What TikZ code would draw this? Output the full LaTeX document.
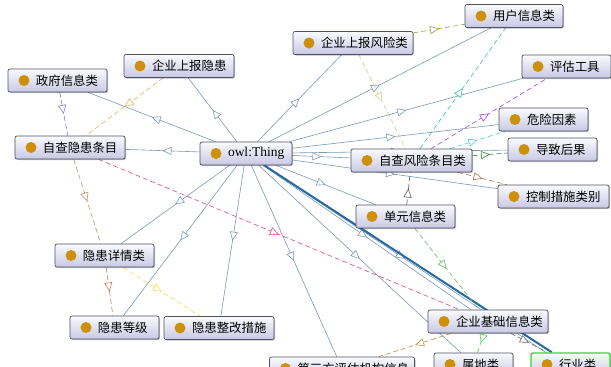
\documentclass[tikz,border=0pt]{standalone}
\usepackage{fontspec}
\setmainfont{Liberation Serif}
\newfontfamily\cjk{Noto Sans CJK SC}
\usetikzlibrary{arrows.meta,decorations.markings,shadows,backgrounds}
\definecolor{dotc}{RGB}{204,144,10}
\definecolor{boxc}{RGB}{80,80,96}
\definecolor{boxtop}{RGB}{250,250,254}
\definecolor{boxbot}{RGB}{200,200,228}
\definecolor{edgec}{RGB}{122,154,180}
\definecolor{thickc}{RGB}{40,105,165}
\definecolor{selc}{RGB}{50,215,50}
\newcommand{\klbl}[2]{\makebox[#1pt][l]{\hspace*{28pt}#2}}
\tikzset{
  cls/.style={draw=boxc, line width=0.7pt, rounded corners=2pt,
    top color=boxtop, bottom color=boxbot, inner xsep=0pt, inner ysep=0pt,
    minimum height=23pt, font=\cjk\fontsize{12.4}{14}\selectfont,
    path picture={\fill[dotc] ([xshift=16pt]path picture bounding box.west) circle (5.5pt);},
    drop shadow={shadow xshift=1pt, shadow yshift=-1pt, opacity=0.25, fill=black}},
  selcls/.style={cls, draw=selc, line width=1.4pt},
  midarrow/.style={postaction={decorate}, decoration={markings,
    mark=at position 0.5 with {\arrow{Triangle[length=9pt,width=8pt,fill=white,line width=0.6pt]}}}},
  sub/.style={edgec, line width=0.6pt, midarrow},
  rel/.style={line width=0.6pt, dash pattern=on 5pt off 3pt, midarrow},
}
\begin{document}
\begin{tikzpicture}[x=1pt,y=-1pt]
\useasboundingbox (0,0) rectangle (611,367);
% nodes
\node[cls] (yh)   at (514,16)    {\klbl{98}{用户信息类}};
\node[cls] (qfx)  at (353,43)    {\klbl{120}{企业上报风险类}};
\node[cls] (qyh)  at (179,66)    {\klbl{110}{企业上报隐患}};
\node[cls] (zf)   at (57.5,80.5) {\klbl{99}{政府信息类}};
\node[cls] (pg)   at (566.5,66.5){\klbl{89}{评估工具}};
\node[cls] (wx)   at (543.5,119.5){\klbl{89}{危险因素}};
\node[cls] (dz)   at (552.5,149.5){\klbl{89}{导致后果}};
\node[cls] (zcyh) at (70,147.5)  {\klbl{110}{自查隐患条目}};
\node[cls] (thing) at (246,153.5){\klbl{92}{\normalfont\fontsize{13.5}{15}\selectfont owl:Thing}};
\node[cls] (zcfx) at (411.5,160.5){\klbl{121}{自查风险条目类}};
\node[cls] (kz)   at (553.5,196.5){\klbl{111}{控制措施类别}};
\node[cls] (dy)   at (405.5,216.5){\klbl{99}{单元信息类}};
\node[cls] (xq)   at (104.5,255.5){\klbl{99}{隐患详情类}};
\node[cls] (dj)   at (114.5,327.5){\klbl{89}{隐患等级}};
\node[cls] (zg)   at (219,328)   {\klbl{110}{隐患整改措施}};
\node[cls] (jc)   at (488,321.5) {\klbl{120}{企业基础信息类}};
\node[cls] (dsf)  at (342,368.5) {\klbl{145}{第三方评估机构信息}};
\node[cls] (sd)   at (473.5,364.5){\klbl{79}{属地类}};
\node[selcls] (hy) at (570.5,364.5){\klbl{79}{行业类}};
% edges
\begin{scope}[on background layer]
\fill[white] (0,0) rectangle (611,367);
\foreach \t in {zf,qyh,zcyh,qfx,yh,pg,wx,dz,zcfx,kz,dy,jc,sd,dsf,zg,dj,xq}
  \draw[sub] (thing) -- (\t);
\draw[sub] (thing) -- ([xshift=-25pt]hy.north);
\draw[thickc, line width=2pt] (thing) -- (hy);
% dashed relations
\draw[rel, color={rgb,255:red,160;green,160;blue,60}] (qfx) -- (yh);
\draw[rel, color={rgb,255:red,210;green,205;blue,130}] (qfx) -- (zcfx);
\draw[rel, color={rgb,255:red,60;green,190;blue,175}] (zcfx) -- (yh);
\draw[rel, color={rgb,255:red,165;green,70;blue,225}] (zcfx) -- (pg);
\draw[rel, color={rgb,255:red,70;green,205;blue,230}] (zcfx) -- (wx);
\draw[rel, color={rgb,255:red,60;green,130;blue,60}] (zcfx) -- (dz);
\draw[rel, color={rgb,255:red,175;green,120;blue,80}] (zcfx) -- (kz);
\draw[rel, color={rgb,255:red,90;green,90;blue,90}] (dy) -- (zcfx);
\draw[rel, color={rgb,255:red,100;green,190;blue,100}] (dy) -- (jc);
\draw[rel, color={rgb,255:red,70;green,225;blue,70}] (jc) -- (sd);
\draw[rel, color={rgb,255:red,190;green,145;blue,70}] (jc) -- (dsf);
\draw[rel, color={rgb,255:red,110;green,110;blue,110}] (jc) -- (hy);
\draw[rel, color={rgb,255:red,225;green,70;blue,140}] (zcyh) -- (jc);
\draw[rel, color={rgb,255:red,232;green,178;blue,85}] (qyh) -- (zcyh);
\draw[rel, color={rgb,255:red,130;green,125;blue,225}] (zf) -- (zcyh);
\draw[rel, color={rgb,255:red,195;green,145;blue,100}] (zcyh) -- (xq);
\draw[rel, color={rgb,255:red,190;green,130;blue,85}] (xq) -- (dj);
\draw[rel, color={rgb,255:red,240;green,225;blue,70}] (xq) -- (zg);
\end{scope}
\end{tikzpicture}
\end{document}
